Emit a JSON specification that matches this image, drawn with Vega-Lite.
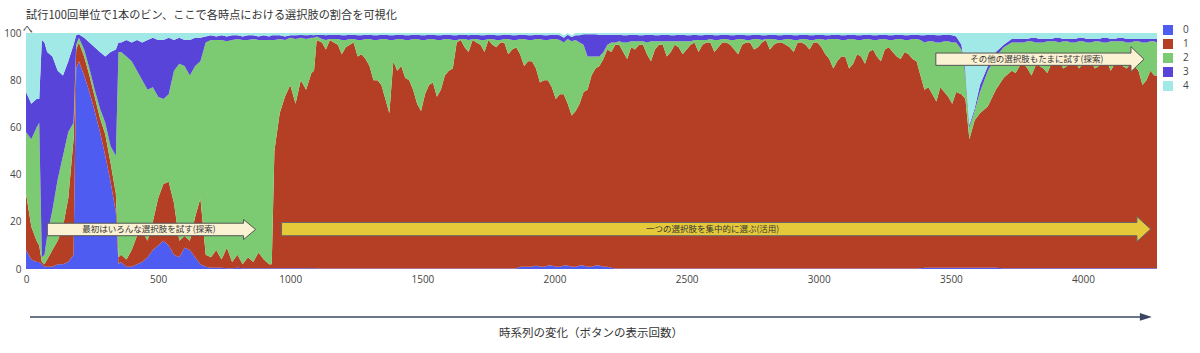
{
"$schema": "https://vega.github.io/schema/vega-lite/v6.json",
"width": 1131, "height": 236,
"autosize": {"type": "none"},
"padding": {"left": 26, "top": 33, "right": 43, "bottom": 84},
"background": "white",
"title": {"text": "試行100回単位で1本のビン、ここで各時点における選択肢の割合を可視化", "anchor": "start", "frame": "group", "font": "Noto Sans CJK JP", "fontSize": 11.2, "fontWeight": "normal", "color": "#333", "offset": 4},
"datasets": {
"bins": [
{"x":0,"0":8,"1":24,"2":26,"3":17,"4":25},
{"x":20,"0":4,"1":14,"2":37,"3":15,"4":30},
{"x":40,"0":3,"1":9,"2":48,"3":12,"4":28},
{"x":50,"0":3,"1":7,"2":52,"3":10,"4":28},
{"x":60,"0":2,"1":1,"2":2,"3":92,"4":3},
{"x":70,"0":1,"1":1,"2":4,"3":90,"4":4},
{"x":80,"0":1,"1":3,"2":10,"3":78,"4":8},
{"x":100,"0":1,"1":7,"2":17,"3":65,"4":10},
{"x":120,"0":2,"1":10,"2":26,"3":46,"4":16},
{"x":140,"0":2,"1":16,"2":30,"3":34,"4":18},
{"x":160,"0":3,"1":27,"2":28,"3":30,"4":12},
{"x":180,"0":6,"1":49,"2":7,"3":33,"4":5},
{"x":190,"0":85,"1":8,"2":2,"3":4,"4":1},
{"x":200,"0":88,"1":8,"2":2,"3":1.5,"4":0.5},
{"x":220,"0":82,"1":8,"2":3,"3":5,"4":2},
{"x":240,"0":75,"1":7,"2":3,"3":11,"4":4},
{"x":260,"0":67,"1":6,"2":3,"3":18,"4":6},
{"x":280,"0":58,"1":6,"2":4,"3":24,"4":8},
{"x":300,"0":48,"1":9,"2":5,"3":28,"4":10},
{"x":320,"0":37,"1":8,"2":7,"3":40,"4":8},
{"x":340,"0":24,"1":8,"2":16,"3":45,"4":7},
{"x":350,"0":2,"1":3,"2":87,"3":4,"4":4},
{"x":360,"0":3,"1":3,"2":86,"3":4,"4":4},
{"x":380,"0":1,"1":3,"2":86,"3":7,"4":3},
{"x":400,"0":1,"1":7,"2":80,"3":8,"4":4},
{"x":420,"0":2,"1":12,"2":70,"3":13,"4":3},
{"x":440,"0":3,"1":13,"2":64,"3":16,"4":4},
{"x":460,"0":5,"1":7,"2":64,"3":21,"4":3},
{"x":480,"0":8,"1":12,"2":57,"3":21,"4":2},
{"x":500,"0":10,"1":20,"2":43,"3":24,"4":3},
{"x":520,"0":12,"1":24,"2":36,"3":25,"4":3},
{"x":540,"0":10,"1":27,"2":37,"3":24,"4":2},
{"x":560,"0":6,"1":22,"2":56,"3":13,"4":3},
{"x":580,"0":5,"1":7,"2":75,"3":11,"4":2},
{"x":600,"0":9,"1":5,"2":72,"3":11,"4":3},
{"x":620,"0":8,"1":4,"2":70,"3":15,"4":3},
{"x":640,"0":5,"1":17,"2":64,"3":12,"4":2},
{"x":660,"0":2,"1":28,"2":58,"3":10,"4":2},
{"x":680,"0":1,"1":5,"2":90,"3":2.5,"4":1.5},
{"x":700,"0":0.5,"1":4.5,"2":92,"3":2,"4":1},
{"x":720,"0":0.5,"1":7.5,"2":89,"3":1.5,"4":1.5},
{"x":740,"0":0.5,"1":3.5,"2":93,"3":2,"4":1},
{"x":760,"0":0.3,"1":8.7,"2":87.5,"3":2,"4":1.5},
{"x":780,"0":0.3,"1":2.7,"2":94,"3":2,"4":1},
{"x":800,"0":0.5,"1":5.5,"2":91.5,"3":1.5,"4":1},
{"x":820,"0":0.3,"1":1.7,"2":95,"3":1.5,"4":1.5},
{"x":840,"0":0.3,"1":4.7,"2":92,"3":2,"4":1},
{"x":860,"0":0.3,"1":2.7,"2":94.5,"3":1.5,"4":1},
{"x":880,"0":0.3,"1":6.7,"2":90,"3":1.5,"4":1.5},
{"x":900,"0":0.3,"1":3.7,"2":93,"3":2,"4":1},
{"x":920,"0":0.3,"1":1.7,"2":95,"3":1.5,"4":1.5},
{"x":930,"0":0.3,"1":1.7,"2":95,"3":2,"4":1},
{"x":940,"0":0.3,"1":49.7,"2":47,"3":2,"4":1},
{"x":960,"0":0.3,"1":65.7,"2":31.5,"3":1.5,"4":1},
{"x":980,"0":0.3,"1":72.7,"2":24,"3":1.5,"4":1.5},
{"x":1000,"0":0.3,"1":77.7,"2":20,"3":1,"4":1},
{"x":1020,"0":0.3,"1":69.7,"2":27.5,"3":1.5,"4":1},
{"x":1040,"0":0.3,"1":79.7,"2":18,"3":1.2,"4":0.8},
{"x":1060,"0":0.3,"1":75.7,"2":21.5,"3":1.5,"4":1},
{"x":1080,"0":0.3,"1":82.7,"2":15,"3":1.2,"4":0.8},
{"x":1090,"0":0.3,"1":83.7,"2":14,"3":1,"4":1},
{"x":1100,"0":0.2,"1":96.8,"2":1.5,"3":0.8,"4":0.7},
{"x":1120,"0":0.2,"1":95.8,"2":1.5,"3":1.8,"4":0.7},
{"x":1135,"0":0.2,"1":92.8,"2":4,"3":2,"4":1},
{"x":1150,"0":0.2,"1":96.8,"2":0.5,"3":1.8,"4":0.7},
{"x":1165,"0":0.2,"1":95.8,"2":1.5,"3":1.8,"4":0.7},
{"x":1180,"0":0.2,"1":94.8,"2":2.5,"3":1.8,"4":0.7},
{"x":1195,"0":0.2,"1":90.8,"2":6,"3":2,"4":1},
{"x":1210,"0":0.2,"1":93.8,"2":3,"3":2,"4":1},
{"x":1225,"0":0.2,"1":94.8,"2":2.5,"3":1.8,"4":0.7},
{"x":1240,"0":0.2,"1":95.8,"2":1.5,"3":1.8,"4":0.7},
{"x":1255,"0":0.2,"1":89.8,"2":7,"3":2,"4":1},
{"x":1270,"0":0.2,"1":90.8,"2":6,"3":2,"4":1},
{"x":1285,"0":0.2,"1":88.8,"2":8.5,"3":1.8,"4":0.7},
{"x":1300,"0":0.2,"1":85.8,"2":11.5,"3":1.8,"4":0.7},
{"x":1315,"0":0.2,"1":79.8,"2":17,"3":2,"4":1},
{"x":1330,"0":0.2,"1":79.8,"2":17,"3":2,"4":1},
{"x":1345,"0":0.2,"1":77.8,"2":19.5,"3":1.8,"4":0.7},
{"x":1360,"0":0.2,"1":71.8,"2":25.5,"3":1.8,"4":0.7},
{"x":1375,"0":0.2,"1":65.8,"2":31,"3":2,"4":1},
{"x":1390,"0":0.2,"1":87.8,"2":9,"3":2,"4":1},
{"x":1405,"0":0.2,"1":83.8,"2":13.5,"3":1.8,"4":0.7},
{"x":1420,"0":0.2,"1":85.8,"2":11.5,"3":1.8,"4":0.7},
{"x":1435,"0":0.2,"1":80.8,"2":16,"3":2,"4":1},
{"x":1450,"0":0.2,"1":79.8,"2":17,"3":2,"4":1},
{"x":1465,"0":0.2,"1":75.8,"2":21.5,"3":1.8,"4":0.7},
{"x":1480,"0":0.2,"1":69.8,"2":27.5,"3":1.8,"4":0.7},
{"x":1495,"0":0.2,"1":66.8,"2":30,"3":2,"4":1},
{"x":1510,"0":0.2,"1":73.8,"2":23,"3":2,"4":1},
{"x":1525,"0":0.2,"1":77.8,"2":19.5,"3":1.8,"4":0.7},
{"x":1540,"0":0.2,"1":78.8,"2":18.5,"3":1.8,"4":0.7},
{"x":1555,"0":0.2,"1":72.8,"2":24,"3":2,"4":1},
{"x":1570,"0":0.2,"1":75.8,"2":21,"3":2,"4":1},
{"x":1585,"0":0.2,"1":81.8,"2":15.5,"3":1.8,"4":0.7},
{"x":1600,"0":0.2,"1":83.8,"2":13.5,"3":1.8,"4":0.7},
{"x":1615,"0":0.2,"1":84.8,"2":12,"3":2,"4":1},
{"x":1630,"0":0.2,"1":95.8,"2":1,"3":2,"4":1},
{"x":1645,"0":0.2,"1":96.8,"2":0.5,"3":1.8,"4":0.7},
{"x":1660,"0":0.2,"1":93.8,"2":3.5,"3":1.8,"4":0.7},
{"x":1675,"0":0.2,"1":91.8,"2":5,"3":2,"4":1},
{"x":1690,"0":0.2,"1":96.8,"2":0.5,"3":1.8,"4":0.7},
{"x":1705,"0":0.2,"1":95.8,"2":1.5,"3":1.8,"4":0.7},
{"x":1720,"0":0.2,"1":94.8,"2":2,"3":2,"4":1},
{"x":1735,"0":0.2,"1":91.8,"2":5,"3":2,"4":1},
{"x":1750,"0":0.2,"1":96.8,"2":0.5,"3":1.8,"4":0.7},
{"x":1765,"0":0.2,"1":94.8,"2":2.5,"3":1.8,"4":0.7},
{"x":1780,"0":0.2,"1":93.8,"2":3,"3":2,"4":1},
{"x":1795,"0":0.2,"1":95.8,"2":1,"3":2,"4":1},
{"x":1810,"0":0.2,"1":95.8,"2":1.5,"3":1.8,"4":0.7},
{"x":1825,"0":0.2,"1":90.8,"2":6.5,"3":1.8,"4":0.7},
{"x":1840,"0":0.2,"1":92.8,"2":4,"3":2,"4":1},
{"x":1855,"0":0.2,"1":93.8,"2":3,"3":2,"4":1},
{"x":1870,"0":1,"1":90,"2":6.5,"3":1.8,"4":0.7},
{"x":1885,"0":1,"1":85,"2":11.5,"3":1.8,"4":0.7},
{"x":1900,"0":1,"1":87,"2":9,"3":2,"4":1},
{"x":1915,"0":1,"1":87,"2":9,"3":2,"4":1},
{"x":1930,"0":1.5,"1":83.5,"2":12.5,"3":1.8,"4":0.7},
{"x":1945,"0":1,"1":78,"2":18.5,"3":1.8,"4":0.7},
{"x":1960,"0":1,"1":79,"2":17,"3":2,"4":1},
{"x":1975,"0":1.5,"1":78.5,"2":17,"3":2,"4":1},
{"x":1990,"0":1.5,"1":75.5,"2":20.5,"3":1.8,"4":0.7},
{"x":2005,"0":1,"1":71,"2":25.5,"3":1.8,"4":0.7},
{"x":2020,"0":1,"1":73,"2":23,"3":2,"4":1},
{"x":2035,"0":1.5,"1":72.5,"2":22,"3":2,"4":1},
{"x":2050,"0":1.5,"1":68.5,"2":27.5,"3":1.8,"4":0.7},
{"x":2065,"0":1,"1":64,"2":31.5,"3":1.8,"4":0.7},
{"x":2080,"0":1,"1":66,"2":30,"3":2,"4":1},
{"x":2095,"0":1.5,"1":68.5,"2":26,"3":3,"4":1},
{"x":2110,"0":1.5,"1":73.5,"2":20,"3":4.5,"4":0.5},
{"x":2125,"0":1,"1":75,"2":14,"3":9.5,"4":0.5},
{"x":2140,"0":1,"1":81,"2":8,"3":9.5,"4":0.5},
{"x":2155,"0":1.5,"1":83.5,"2":5,"3":9.5,"4":0.5},
{"x":2170,"0":1.5,"1":84.5,"2":4,"3":9.3,"4":0.7},
{"x":2185,"0":1,"1":88,"2":3,"3":7.3,"4":0.7},
{"x":2200,"0":1,"1":92,"2":2,"3":4.3,"4":0.7},
{"x":2215,"0":0.5,"1":91.5,"2":4,"3":3.3,"4":0.7},
{"x":2230,"0":0.2,"1":94.8,"2":1,"3":3.3,"4":0.7},
{"x":2245,"0":0.2,"1":94.8,"2":1.5,"3":2.8,"4":0.7},
{"x":2260,"0":0.2,"1":91.8,"2":4,"3":3,"4":1},
{"x":2275,"0":0.2,"1":88.8,"2":7,"3":3,"4":1},
{"x":2290,"0":0.2,"1":93.8,"2":2.5,"3":2.8,"4":0.7},
{"x":2305,"0":0.2,"1":92.8,"2":3.5,"3":2.8,"4":0.7},
{"x":2320,"0":0.2,"1":94.8,"2":1.5,"3":2.5,"4":1},
{"x":2335,"0":0.2,"1":94.8,"2":1.5,"3":2.5,"4":1},
{"x":2350,"0":0.2,"1":90.8,"2":5,"3":3.3,"4":0.7},
{"x":2365,"0":0.2,"1":87.8,"2":8.5,"3":2.8,"4":0.7},
{"x":2380,"0":0.2,"1":92.8,"2":3.5,"3":2.5,"4":1},
{"x":2395,"0":0.2,"1":94.8,"2":1.5,"3":2.5,"4":1},
{"x":2410,"0":0.2,"1":94.8,"2":1.5,"3":2.8,"4":0.7},
{"x":2425,"0":0.2,"1":89.8,"2":6.5,"3":2.8,"4":0.7},
{"x":2440,"0":0.2,"1":91.8,"2":4.5,"3":2.5,"4":1},
{"x":2455,"0":0.2,"1":94.8,"2":1.5,"3":2.5,"4":1},
{"x":2470,"0":0.2,"1":93.8,"2":2.5,"3":2.8,"4":0.7},
{"x":2485,"0":0.2,"1":90.8,"2":5.5,"3":2.8,"4":0.7},
{"x":2500,"0":0.2,"1":92.8,"2":3.5,"3":2.5,"4":1},
{"x":2515,"0":0.2,"1":94.8,"2":1.5,"3":2.5,"4":1},
{"x":2530,"0":0.2,"1":95.8,"2":1,"3":2.3,"4":0.7},
{"x":2545,"0":0.2,"1":91.8,"2":5,"3":2,"4":1},
{"x":2560,"0":0.2,"1":94.8,"2":2,"3":2,"4":1},
{"x":2575,"0":0.2,"1":95.8,"2":1,"3":2.3,"4":0.7},
{"x":2590,"0":0.2,"1":95.8,"2":1.5,"3":1.8,"4":0.7},
{"x":2605,"0":0.2,"1":91.8,"2":5,"3":2,"4":1},
{"x":2620,"0":0.2,"1":93.8,"2":3,"3":2,"4":1},
{"x":2635,"0":0.2,"1":95.8,"2":1.5,"3":1.8,"4":0.7},
{"x":2650,"0":0.2,"1":95.8,"2":1.5,"3":1.8,"4":0.7},
{"x":2665,"0":0.2,"1":94.8,"2":2,"3":2,"4":1},
{"x":2680,"0":0.2,"1":92.8,"2":4,"3":2,"4":1},
{"x":2695,"0":0.2,"1":90.8,"2":6.5,"3":1.8,"4":0.7},
{"x":2710,"0":0.2,"1":94.8,"2":2.5,"3":1.8,"4":0.7},
{"x":2725,"0":0.2,"1":95.8,"2":1,"3":2,"4":1},
{"x":2740,"0":0.2,"1":95.8,"2":1,"3":2,"4":1},
{"x":2755,"0":0.2,"1":92.8,"2":4.5,"3":1.8,"4":0.7},
{"x":2770,"0":0.2,"1":93.8,"2":3.5,"3":1.8,"4":0.7},
{"x":2785,"0":0.2,"1":95.8,"2":1,"3":2,"4":1},
{"x":2800,"0":0.2,"1":96.8,"2":0.5,"3":1.5,"4":1},
{"x":2815,"0":0.2,"1":92.8,"2":4.5,"3":1.8,"4":0.7},
{"x":2830,"0":0.2,"1":94.8,"2":2.5,"3":1.8,"4":0.7},
{"x":2845,"0":0.2,"1":95.8,"2":1,"3":2,"4":1},
{"x":2860,"0":0.2,"1":95.8,"2":1,"3":2,"4":1},
{"x":2875,"0":0.2,"1":94.8,"2":2.5,"3":1.8,"4":0.7},
{"x":2890,"0":0.2,"1":93.8,"2":3.5,"3":1.8,"4":0.7},
{"x":2905,"0":0.2,"1":91.8,"2":5,"3":2,"4":1},
{"x":2920,"0":0.2,"1":95.8,"2":1,"3":2,"4":1},
{"x":2935,"0":0.2,"1":95.8,"2":1.5,"3":1.8,"4":0.7},
{"x":2950,"0":0.2,"1":94.8,"2":2.5,"3":1.8,"4":0.7},
{"x":2965,"0":0.2,"1":92.8,"2":4,"3":2,"4":1},
{"x":2980,"0":0.2,"1":95.8,"2":1,"3":2,"4":1},
{"x":2995,"0":0.2,"1":95.8,"2":1.5,"3":1.8,"4":0.7},
{"x":3010,"0":0.2,"1":93.8,"2":3.5,"3":1.8,"4":0.7},
{"x":3025,"0":0.2,"1":90.8,"2":6,"3":2,"4":1},
{"x":3040,"0":0.2,"1":88.8,"2":8.5,"3":1.5,"4":1},
{"x":3055,"0":0.2,"1":84.8,"2":12.5,"3":1.8,"4":0.7},
{"x":3070,"0":0.2,"1":87.8,"2":9.5,"3":1.8,"4":0.7},
{"x":3085,"0":0.2,"1":89.8,"2":7,"3":2,"4":1},
{"x":3100,"0":0.2,"1":89.8,"2":7,"3":2,"4":1},
{"x":3115,"0":0.2,"1":84.8,"2":12.5,"3":1.8,"4":0.7},
{"x":3130,"0":0.2,"1":86.8,"2":10.5,"3":1.8,"4":0.7},
{"x":3145,"0":0.2,"1":90.8,"2":6,"3":2,"4":1},
{"x":3160,"0":0.2,"1":89.8,"2":7,"3":2,"4":1},
{"x":3175,"0":0.2,"1":86.8,"2":10.5,"3":1.8,"4":0.7},
{"x":3190,"0":0.2,"1":91.8,"2":5.5,"3":1.8,"4":0.7},
{"x":3205,"0":0.2,"1":92.8,"2":4,"3":2,"4":1},
{"x":3220,"0":0.2,"1":89.8,"2":7,"3":2,"4":1},
{"x":3235,"0":0.2,"1":87.8,"2":9.5,"3":1.8,"4":0.7},
{"x":3250,"0":0.2,"1":92.8,"2":4.5,"3":1.8,"4":0.7},
{"x":3265,"0":0.2,"1":93.8,"2":3,"3":2,"4":1},
{"x":3280,"0":0.2,"1":91.8,"2":5,"3":2,"4":1},
{"x":3295,"0":0.2,"1":89.8,"2":7.5,"3":1.8,"4":0.7},
{"x":3310,"0":0.2,"1":88.8,"2":8.5,"3":1.8,"4":0.7},
{"x":3325,"0":0.2,"1":91.8,"2":5,"3":2,"4":1},
{"x":3340,"0":0.2,"1":90.8,"2":6,"3":2,"4":1},
{"x":3355,"0":0.2,"1":88.8,"2":8.5,"3":1.8,"4":0.7},
{"x":3370,"0":0.2,"1":87.8,"2":9.5,"3":1.8,"4":0.7},
{"x":3385,"0":0.3,"1":81.7,"2":15,"3":2,"4":1},
{"x":3400,"0":0.5,"1":75.5,"2":20,"3":3,"4":1},
{"x":3415,"0":0.5,"1":76.5,"2":19.5,"3":2.8,"4":0.7},
{"x":3430,"0":0.5,"1":73.5,"2":22.5,"3":2.8,"4":0.7},
{"x":3445,"0":0.5,"1":70.5,"2":25,"3":3,"4":1},
{"x":3460,"0":0.5,"1":76.5,"2":19,"3":3,"4":1},
{"x":3475,"0":0.5,"1":74.5,"2":21.5,"3":2.8,"4":0.7},
{"x":3490,"0":0.5,"1":72.5,"2":23.5,"3":2.8,"4":0.7},
{"x":3505,"0":0.5,"1":69.5,"2":26,"3":3,"4":1},
{"x":3520,"0":0.5,"1":74.5,"2":21,"3":2.5,"4":1.5},
{"x":3540,"0":0.5,"1":73.5,"2":19,"3":2,"4":5},
{"x":3555,"0":0.5,"1":71.5,"2":10,"3":2,"4":16},
{"x":3570,"0":0.5,"1":54.5,"2":5,"3":1,"4":39},
{"x":3590,"0":0.5,"1":62.5,"2":4,"3":1,"4":32},
{"x":3610,"0":0.5,"1":65.5,"2":9,"3":3,"4":22},
{"x":3640,"0":0.5,"1":68.5,"2":15,"3":2,"4":14},
{"x":3670,"0":0.5,"1":75.5,"2":14,"3":2,"4":8},
{"x":3700,"0":0.3,"1":80.7,"2":13,"3":1,"4":5},
{"x":3730,"0":0.3,"1":83.7,"2":12,"3":1.5,"4":2.5},
{"x":3745,"0":0.3,"1":82.7,"2":13,"3":1.5,"4":2.5},
{"x":3760,"0":0.3,"1":85.7,"2":10,"3":1.5,"4":2.5},
{"x":3775,"0":0.3,"1":86.7,"2":9,"3":1.5,"4":2.5},
{"x":3790,"0":0.3,"1":84.7,"2":11.5,"3":1,"4":2.5},
{"x":3805,"0":0.3,"1":81.7,"2":14.5,"3":1.5,"4":2},
{"x":3820,"0":0.3,"1":85.7,"2":10,"3":2,"4":2},
{"x":3835,"0":0.3,"1":85.7,"2":10,"3":1.5,"4":2.5},
{"x":3850,"0":0.3,"1":84.7,"2":11,"3":1.5,"4":2.5},
{"x":3865,"0":0.3,"1":82.7,"2":13.5,"3":1,"4":2.5},
{"x":3880,"0":0.3,"1":86.7,"2":9.5,"3":1,"4":2.5},
{"x":3895,"0":0.3,"1":87.7,"2":8.5,"3":1.5,"4":2},
{"x":3910,"0":0.3,"1":87.7,"2":8,"3":2,"4":2},
{"x":3925,"0":0.3,"1":84.7,"2":11.5,"3":1,"4":2.5},
{"x":3940,"0":0.3,"1":85.7,"2":10.5,"3":1,"4":2.5},
{"x":3955,"0":0.3,"1":87.7,"2":8,"3":1.5,"4":2.5},
{"x":3970,"0":0.3,"1":87.7,"2":8,"3":1.5,"4":2.5},
{"x":3985,"0":0.3,"1":84.7,"2":11.5,"3":1.5,"4":2},
{"x":4000,"0":0.3,"1":86.7,"2":9.5,"3":1.5,"4":2},
{"x":4015,"0":0.3,"1":87.7,"2":8,"3":1.5,"4":2.5},
{"x":4030,"0":0.3,"1":87.7,"2":8,"3":1.5,"4":2.5},
{"x":4045,"0":0.3,"1":84.7,"2":11.5,"3":1,"4":2.5},
{"x":4060,"0":0.3,"1":85.7,"2":10.5,"3":1,"4":2.5},
{"x":4075,"0":0.3,"1":87.7,"2":8,"3":2,"4":2},
{"x":4090,"0":0.3,"1":87.7,"2":8,"3":2,"4":2},
{"x":4105,"0":0.3,"1":83.7,"2":12.5,"3":1,"4":2.5},
{"x":4120,"0":0.3,"1":86.7,"2":9.5,"3":1,"4":2.5},
{"x":4135,"0":0.3,"1":87.7,"2":8.5,"3":1.5,"4":2},
{"x":4150,"0":0.3,"1":85.7,"2":10.5,"3":1.5,"4":2},
{"x":4165,"0":0.3,"1":84.7,"2":11,"3":1.5,"4":2.5},
{"x":4180,"0":0.3,"1":86.7,"2":9,"3":1.5,"4":2.5},
{"x":4195,"0":0.3,"1":85.7,"2":10.5,"3":1,"4":2.5},
{"x":4210,"0":0.3,"1":83.7,"2":12.5,"3":1,"4":2.5},
{"x":4225,"0":0.3,"1":77.7,"2":18,"3":1.5,"4":2.5},
{"x":4240,"0":0.3,"1":79.7,"2":16,"3":1.5,"4":2.5},
{"x":4255,"0":0.3,"1":83.7,"2":12.5,"3":1,"4":2.5},
{"x":4270,"0":0.3,"1":81.7,"2":14.5,"3":1,"4":2.5},
{"x":4280,"0":0.3,"1":81.7,"2":14,"3":1.5,"4":2.5}
],
"bodies": [
{"id":"a1","x":80.6,"x2":830,"lo":14.1,"hi":19.4},
{"id":"a3","x":3443,"x2":4190,"lo":86.3,"hi":91.5},
{"id":"a2","x":967,"x2":4213,"lo":14.1,"hi":19.7}
],
"heads": [
{"id":"a1","x":846,"y":16.75},
{"id":"a3","x":4206,"y":88.9},
{"id":"a2","x":4230,"y":16.9},
{"id":"t","x":4238,"y":-20.3}
],
"notes": [
{"x":465,"y":16.75,"label":"最初はいろんな選択肢を試す(探索)"},
{"x":2598,"y":16.9,"label":"一つの選択肢を集中的に選ぶ(活用)"},
{"x":3825,"y":88.9,"label":"その他の選択肢もたまに試す(探索)"}
],
"timeline": [{"x":15,"x2":4232,"y":-20.3}],
"caption": [{"x":2138,"y":-27.5,"label":"時系列の変化（ボタンの表示回数）"}],
"ylab": [{"x":7,"y":101.1,"label":"へ"}]
},
"layer": [
{
"data": {"name": "bins"},
"transform": [{"fold": ["0","1","2","3","4"], "as": ["k","v"]}],
"mark": {"type": "area", "interpolate": "linear", "opacity": 1},
"encoding": {
"x": {"field": "x", "type": "quantitative", "title": null, "scale": {"domain": [0, 4280], "nice": false, "zero": false},
 "axis": {"values": [0,500,1000,1500,2000,2500,3000,3500,4000], "format": "d", "labelFlush": false}},
"y": {"field": "v", "type": "quantitative", "stack": "zero", "title": null, "scale": {"domain": [0, 100], "nice": false},
 "axis": {"values": [0,20,40,60,80,100]}},
"color": {"field": "k", "type": "nominal", "scale": {"domain": ["0","1","2","3","4"], "range": ["#4F5CF2","#B53F25","#7CCB72","#5944DA","#A0E9E7"]},
 "legend": {"title": null, "orient": "none", "legendX": 1137, "legendY": -8, "symbolType": "square", "symbolSize": 100, "symbolStrokeWidth": 0, "symbolOpacity": 1, "labelFont": "Open Sans", "labelFontSize": 10, "labelColor": "#444", "rowPadding": 4, "labelOffset": 10}},
"order": {"field": "k", "sort": "ascending"}
}
},
{
"data": {"name": "bodies"},
"transform": [{"filter": "datum.id !== 'a2'"}],
"mark": {"type": "rect", "fill": "#FBF1D3", "stroke": "#555555", "strokeWidth": 1},
"encoding": {
"x": {"field": "x", "type": "quantitative", "title": null, "scale": {"domain": [0, 4280], "nice": false, "zero": false}},
"x2": {"field": "x2"},
"y": {"field": "lo", "type": "quantitative", "title": null, "scale": {"domain": [0, 100], "nice": false}},
"y2": {"field": "hi"}
}
},
{
"data": {"name": "bodies"},
"transform": [{"filter": "datum.id === 'a2'"}],
"mark": {"type": "rect", "fill": "#E6C93B", "stroke": "#666666", "strokeWidth": 1},
"encoding": {
"x": {"field": "x", "type": "quantitative", "title": null, "scale": {"domain": [0, 4280], "nice": false, "zero": false}},
"x2": {"field": "x2"},
"y": {"field": "lo", "type": "quantitative", "title": null, "scale": {"domain": [0, 100], "nice": false}},
"y2": {"field": "hi"}
}
},
{
"data": {"name": "heads"},
"transform": [{"filter": "datum.id === 'a1'"}],
"mark": {"type": "point", "shape": "M -0.6 -0.62 L -0.6 -1 L 0.6 0 L -0.6 1 L -0.6 0.62", "size": 400, "filled": true, "fill": "#FBF1D3", "stroke": "#555555", "strokeWidth": 1, "opacity": 1},
"encoding": {
"x": {"field": "x", "type": "quantitative", "title": null, "scale": {"domain": [0, 4280], "nice": false, "zero": false}},
"y": {"field": "y", "type": "quantitative", "title": null, "scale": {"domain": [0, 100], "nice": false}}
}
},
{
"data": {"name": "heads"},
"transform": [{"filter": "datum.id === 'a3'"}],
"mark": {"type": "point", "shape": "M -0.52 -0.49 L -0.52 -1 L 0.52 0 L -0.52 1 L -0.52 0.49", "size": 625, "filled": true, "fill": "#FBF1D3", "stroke": "#555555", "strokeWidth": 1, "opacity": 1},
"encoding": {
"x": {"field": "x", "type": "quantitative", "title": null, "scale": {"domain": [0, 4280], "nice": false, "zero": false}},
"y": {"field": "y", "type": "quantitative", "title": null, "scale": {"domain": [0, 100], "nice": false}}
}
},
{
"data": {"name": "heads"},
"transform": [{"filter": "datum.id === 'a2'"}],
"mark": {"type": "point", "shape": "M -0.55 -0.53 L -0.55 -1 L 0.55 0 L -0.55 1 L -0.55 0.53", "size": 625, "filled": true, "fill": "#E6C93B", "stroke": "#666666", "strokeWidth": 1, "opacity": 1},
"encoding": {
"x": {"field": "x", "type": "quantitative", "title": null, "scale": {"domain": [0, 4280], "nice": false, "zero": false}},
"y": {"field": "y", "type": "quantitative", "title": null, "scale": {"domain": [0, 100], "nice": false}}
}
},
{
"data": {"name": "notes"},
"mark": {"type": "text", "font": "Noto Sans CJK JP", "fontSize": 8.5, "color": "#333", "align": "center", "baseline": "middle"},
"encoding": {
"x": {"field": "x", "type": "quantitative", "title": null, "scale": {"domain": [0, 4280], "nice": false, "zero": false}},
"y": {"field": "y", "type": "quantitative", "title": null, "scale": {"domain": [0, 100], "nice": false}},
"text": {"field": "label"}
}
},
{
"data": {"name": "timeline"},
"mark": {"type": "rule", "color": "#3B4762", "strokeWidth": 1.5},
"encoding": {
"x": {"field": "x", "type": "quantitative", "title": null, "scale": {"domain": [0, 4280], "nice": false, "zero": false}},
"x2": {"field": "x2"},
"y": {"field": "y", "type": "quantitative", "title": null, "scale": {"domain": [0, 100], "nice": false}}
}
},
{
"data": {"name": "heads"},
"transform": [{"filter": "datum.id === 't'"}],
"mark": {"type": "point", "shape": "M -1 -0.65 L 1 0 L -1 0.65 Z", "size": 144, "filled": true, "fill": "#3B4762", "strokeWidth": 0, "opacity": 1},
"encoding": {
"x": {"field": "x", "type": "quantitative", "title": null, "scale": {"domain": [0, 4280], "nice": false, "zero": false}},
"y": {"field": "y", "type": "quantitative", "title": null, "scale": {"domain": [0, 100], "nice": false}}
}
},
{
"data": {"name": "caption"},
"mark": {"type": "text", "font": "Noto Sans CJK JP", "fontSize": 11.5, "color": "#333", "align": "center", "baseline": "middle"},
"encoding": {
"x": {"field": "x", "type": "quantitative", "title": null, "scale": {"domain": [0, 4280], "nice": false, "zero": false}},
"y": {"field": "y", "type": "quantitative", "title": null, "scale": {"domain": [0, 100], "nice": false}},
"text": {"field": "label"}
}
},
{
"data": {"name": "ylab"},
"mark": {"type": "text", "font": "Noto Sans CJK JP", "fontSize": 10, "color": "#444", "align": "center", "baseline": "middle"},
"encoding": {
"x": {"field": "x", "type": "quantitative", "title": null, "scale": {"domain": [0, 4280], "nice": false, "zero": false}},
"y": {"field": "y", "type": "quantitative", "title": null, "scale": {"domain": [0, 100], "nice": false}},
"text": {"field": "label"}
}
}
],
"config": {
"view": {"stroke": null},
"axis": {"labelFont": "Open Sans", "labelFontSize": 10, "labelColor": "#444", "ticks": false, "domain": false, "grid": false, "labelPadding": 5}
}
}
